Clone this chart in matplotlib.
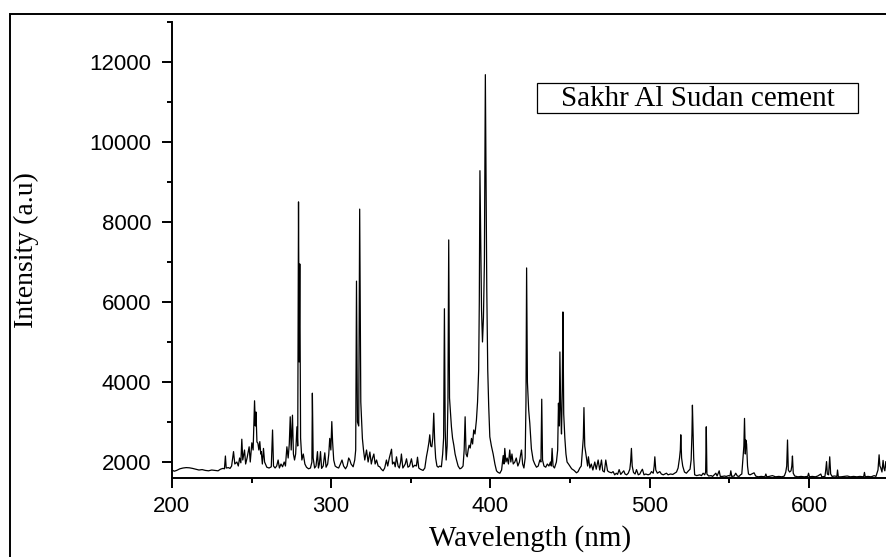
import numpy as np
import matplotlib
matplotlib.use("Agg")
import matplotlib.pyplot as plt
from matplotlib.patches import Rectangle

# (wavelength nm, intensity a.u.)
spectrum = [
    (200, 1800), (201.5, 1770), (203, 1790), (205, 1830), (207, 1850), (209, 1860),
    (211, 1855), (213, 1840), (215, 1820), (217, 1800), (219, 1810), (221, 1790),
    (223, 1780), (225, 1800), (227, 1790), (229, 1780), (230.5, 1820), (232, 1840),
    (233, 1830), (233.6, 2150), (234.1, 1850), (235.5, 1860), (236.5, 1840), (237.5, 1900),
    (238.7, 2260), (239.5, 1950), (240.8, 2000), (241.7, 1900), (242.5, 2100), (243.3, 1980),
    (243.9, 2570), (244.5, 2050), (245.6, 2300), (246.3, 1950), (247.2, 2100), (248.5, 2380),
    (249.2, 2000), (250.2, 2480), (251, 2300), (251.9, 3530), (252.4, 2900), (252.8, 3250),
    (253.4, 2500), (254, 2470), (254.6, 2300), (255.2, 2510), (255.8, 2200), (256.1, 2260),
    (256.8, 1950), (257.5, 2340), (258.2, 2000), (259.6, 1870), (261, 1850), (262.4, 1880),
    (263.2, 2800), (263.8, 1900), (264.8, 1850), (265.8, 1900), (266.7, 2050), (267.5, 1850),
    (268.5, 1950), (269.5, 1880), (270.5, 2000), (271.3, 1900), (272.2, 2380), (273, 2100),
    (273.7, 2450), (274.3, 3130), (274.9, 2300), (275.7, 3170), (276.3, 2200), (277, 2050),
    (277.7, 2200), (278.5, 2880), (279, 2400), (279.5, 8500), (279.9, 4500), (280.3, 6950),
    (280.8, 2600), (281.6, 2050), (282.5, 2200), (283.5, 1950), (284.5, 1870), (285.8, 1830),
    (287, 1850), (287.9, 2000), (288.2, 3720), (288.7, 2100), (289.6, 1850), (290.5, 1900),
    (291.4, 2260), (292, 1850), (292.6, 1950), (293.3, 2260), (294, 1840), (295, 1900),
    (296, 2230), (296.8, 1870), (297.8, 1950), (298.5, 2200), (299.1, 2590), (299.8, 2300),
    (300.4, 3010), (300.9, 2500), (301.6, 2050), (302.5, 1900), (303.5, 1870), (304.7, 1850),
    (305.8, 1950), (306.8, 2050), (307.8, 1900), (309, 1830), (310, 1900), (311, 2100),
    (311.7, 2050), (312.5, 1950), (313.8, 1880), (314.8, 2050), (315.4, 2300), (315.9, 6520),
    (316.5, 3000), (317.3, 2900), (317.9, 8320), (318.6, 3500), (319.6, 2590), (320.3, 2300),
    (321.1, 2050), (322.2, 2300), (323.2, 2000), (324.3, 2250), (325.2, 1950), (326, 2100),
    (326.8, 2200), (327.6, 1950), (328.5, 2050), (329.5, 1900), (330.5, 1880), (331.5, 1820),
    (332.6, 1780), (333.6, 1850), (334.7, 2050), (335.5, 1900), (336.5, 2100), (337.9, 2320),
    (338.5, 1950), (339.5, 2000), (340.2, 1880), (341, 2130), (342, 1900), (342.8, 1850),
    (343.6, 2000), (344.1, 2200), (345, 1850), (345.8, 1900), (346.5, 1950), (347.3, 2080),
    (348.2, 1870), (349.2, 1900), (350.4, 2080), (351.3, 1870), (352.5, 1920), (353.5, 1900),
    (354.2, 2120), (355, 1850), (356, 1820), (357.7, 1790), (358.8, 1850), (359.8, 2130),
    (360.6, 2300), (361.4, 2500), (361.9, 2680), (362.5, 2400), (363.2, 2380), (363.8, 2600),
    (364.4, 3220), (365, 2500), (365.6, 2100), (366.4, 1900), (367.2, 1870), (368.2, 1900),
    (369.2, 1880), (370, 2200), (370.6, 2600), (371.1, 5830), (371.6, 2800), (372.2, 2050),
    (372.8, 2400), (373.3, 3500), (373.8, 7550), (374.3, 3600), (375.5, 2880), (376.2, 2600),
    (377, 2420), (377.8, 2200), (378.7, 2050), (379.7, 1900), (380.8, 1830), (381.8, 1850),
    (382.8, 1900), (383.5, 2300), (384.1, 3130), (384.7, 2200), (385.4, 2130), (386, 2300),
    (386.6, 2420), (387.3, 2350), (388.1, 2590), (388.8, 2450), (389.5, 2800), (390.3, 2700),
    (391.2, 3050), (391.9, 3500), (392.6, 4300), (393.0, 6000), (393.4, 9280), (393.8, 7900),
    (394.4, 5800), (395.0, 5000), (395.6, 5600), (396.2, 7000), (396.8, 11680), (397.2, 9200),
    (397.7, 6300), (398.3, 4300), (398.9, 3400), (399.6, 2630), (400.6, 2400), (401.7, 2200),
    (402.8, 1950), (403.8, 1780), (404.8, 1740), (405.9, 1720), (407, 1800), (408, 2160),
    (408.5, 1950), (409, 2340), (409.7, 2000), (410.5, 2100), (411.3, 1950), (412.1, 2300),
    (412.8, 2000), (413.5, 2200), (414.3, 1950), (415.3, 2000), (416.2, 2100), (417.2, 1900),
    (418.2, 2000), (419, 2200), (419.5, 2300), (420.2, 1950), (421, 1850), (421.8, 2100),
    (422.3, 3500), (422.7, 6850), (423.2, 4000), (424.0, 3300), (424.7, 2970), (425.7, 2330),
    (426.8, 2050), (427.8, 1950), (428.9, 1870), (430, 1900), (431, 2050), (431.7, 2000),
    (432.2, 3570), (432.7, 2050), (433.6, 1900), (434.7, 1870), (435.7, 1950), (436.7, 1900),
    (437.7, 2000), (438.2, 1900), (438.7, 2340), (439.3, 1900), (440.2, 1850), (441.4, 2000),
    (442.2, 2300), (442.7, 3470), (443.2, 2900), (443.6, 4750), (444.1, 3300), (444.6, 2700),
    (445.1, 3800), (445.5, 5750), (446.0, 3200), (446.7, 2600), (447.4, 2200), (448.1, 2000),
    (449, 1950), (449.8, 1900), (451, 1830), (452.5, 1790), (454, 1730), (455, 1760),
    (456.1, 1850), (457, 1900), (457.8, 2330), (458.3, 2600), (458.7, 3360), (459.2, 2400),
    (460.3, 2090), (461, 1900), (461.5, 2130), (462.4, 1850), (463.3, 1950), (464.3, 1800),
    (465.5, 2000), (466.4, 1820), (467.6, 2050), (468.6, 1800), (469.7, 2050), (470.5, 1780),
    (471.5, 1750), (472.4, 2050), (473.5, 1780), (474.5, 1750), (476, 1730), (477, 1760),
    (478, 1680), (479, 1720), (479.8, 1690), (480.8, 1810), (481.8, 1690), (482.6, 1730),
    (483.7, 1780), (484.5, 1700), (485.5, 1680), (486.5, 1720), (487.5, 1820), (488.0, 2000),
    (488.5, 2340), (489.0, 1900), (489.8, 1740), (490.8, 1700), (491.7, 1810), (492.8, 1680),
    (493.8, 1700), (494.5, 1760), (495.4, 1820), (496.4, 1680), (497.5, 1700), (499, 1680),
    (500.2, 1700), (501.1, 1760), (502.2, 1720), (502.8, 1900), (503.2, 2130), (503.8, 1800),
    (504.8, 1720), (506.3, 1760), (507.3, 1700), (508.5, 1680), (510.5, 1720), (511.5, 1680),
    (513, 1700), (514.5, 1690), (515.7, 1720), (516.8, 1750), (517.8, 1850), (518.7, 2100),
    (519.2, 2300), (519.5, 2680), (520, 2100), (520.7, 1900), (521.8, 1750), (523, 1720),
    (524.3, 1780), (525.3, 1820), (526.0, 2050), (526.5, 2700), (526.8, 3420), (527.2, 2800),
    (527.6, 2100), (528.2, 1680), (529.5, 1660), (531.4, 1680), (532.5, 1660), (533.5, 1720),
    (534.5, 1680), (535.1, 1750), (535.5, 2880), (535.9, 1700), (537, 1650), (538.5, 1660),
    (539.5, 1640), (540.5, 1680), (541.5, 1720), (542.3, 1650), (543.6, 1780), (544.3, 1640),
    (545.5, 1640), (547, 1650), (548, 1640), (549.5, 1660), (550.4, 1650), (550.9, 1780),
    (551.5, 1640), (553, 1650), (554, 1720), (555, 1650), (556.1, 1640), (557, 1680),
    (557.8, 1700), (558.6, 2150), (559.1, 2400), (559.5, 3090), (560, 2200), (560.3, 2550),
    (560.8, 2450), (561.4, 1900), (562, 1700), (563, 1680), (564, 1700), (565.5, 1730),
    (566.5, 1650), (568, 1630), (570, 1640), (572.3, 1630), (572.9, 1700), (573.5, 1630),
    (575, 1640), (577, 1660), (579, 1630), (581, 1640), (583, 1630), (584.5, 1650),
    (585.4, 1750), (586.0, 1900), (586.5, 2550), (587, 1800), (587.8, 1750), (588.7, 1780),
    (589.2, 1900), (589.6, 2150), (590.1, 1720), (591, 1650), (593, 1630), (595, 1640),
    (597, 1630), (599.2, 1640), (599.7, 1720), (600.3, 1630), (602, 1640), (604, 1630),
    (605.5, 1650), (607.4, 1700), (608, 1630), (610, 1640), (610.5, 1800), (611, 2010),
    (611.5, 1700), (612.3, 1680), (613, 2130), (613.6, 1700), (614.5, 1640), (616, 1650),
    (617.5, 1640), (617.9, 1800), (618.4, 1630), (620, 1630), (622, 1640), (624, 1650),
    (626, 1630), (628, 1640), (630, 1630), (632, 1640), (634.3, 1630), (634.8, 1740),
    (635.3, 1630), (637, 1640), (639, 1630), (640.9, 1660), (642, 1640), (643.3, 1800),
    (644, 2180), (644.5, 1900), (645, 1860), (645.8, 1750), (646.5, 2040), (647, 1850),
    (647.6, 1780), (648.2, 2010), (649, 1750), (650, 1700),
]
wavelength = np.array([p[0] for p in spectrum])
intensity = np.array([p[1] for p in spectrum])

x_ticks = [200, 300, 400, 500, 600]
y_ticks = [2000, 4000, 6000, 8000, 10000, 12000]
legend_label = "Sakhr Al Sudan cement"

serif = ["Liberation Serif", "DejaVu Serif"]
sans = ["Liberation Sans", "DejaVu Sans"]

fig = plt.figure(figsize=(8.86, 5.57), dpi=100)
ax = fig.add_axes([0.194, 0.1418, 0.809, 0.819])

ax.plot(wavelength, intensity, color="black", linewidth=0.9)

ax.set_xlim(200, 650)
ax.set_ylim(1600, 13000)
ax.set_xticks(x_ticks)
ax.set_xticks([250, 350, 450, 550, 650], minor=True)
ax.set_yticks(y_ticks)
ax.set_yticks([3000, 5000, 7000, 9000, 11000, 13000], minor=True)

for side in ["top", "right"]:
    ax.spines[side].set_visible(False)
for side in ["left", "bottom"]:
    ax.spines[side].set_linewidth(1.4)

ax.tick_params(which="major", direction="out", length=7, width=1.4, labelsize=16)
ax.tick_params(which="minor", direction="out", length=3.5, width=1.4)
ax.tick_params(axis="x", which="major", pad=6)
ax.tick_params(axis="y", which="major", pad=8)
for lab in ax.get_xticklabels() + ax.get_yticklabels():
    lab.set_family(sans)

ax.set_xlabel("Wavelength (nm)", family=serif, fontsize=21, labelpad=6)
ax.set_ylabel("Intensity (a.u)", family=serif, fontsize=20)
ax.yaxis.set_label_coords(-0.186, 0.5)

# label box in the upper right
box = Rectangle((537 / 886, 1 - 113 / 557), 321 / 886, 30 / 557,
                transform=fig.transFigure, facecolor="white",
                edgecolor="black", linewidth=0.9)
fig.patches.append(box)
fig.text(698 / 886, 1 - 98.5 / 557, legend_label, family=serif, fontsize=21,
         ha="center", va="center")

# outer frame
frame = Rectangle((9.5 / 886, -0.2), 1.2, 1.2 - 13.5 / 557,
                  transform=fig.transFigure, fill=False,
                  edgecolor="black", linewidth=1.4)
fig.patches.append(frame)

fig.savefig("out.png", dpi=100)
